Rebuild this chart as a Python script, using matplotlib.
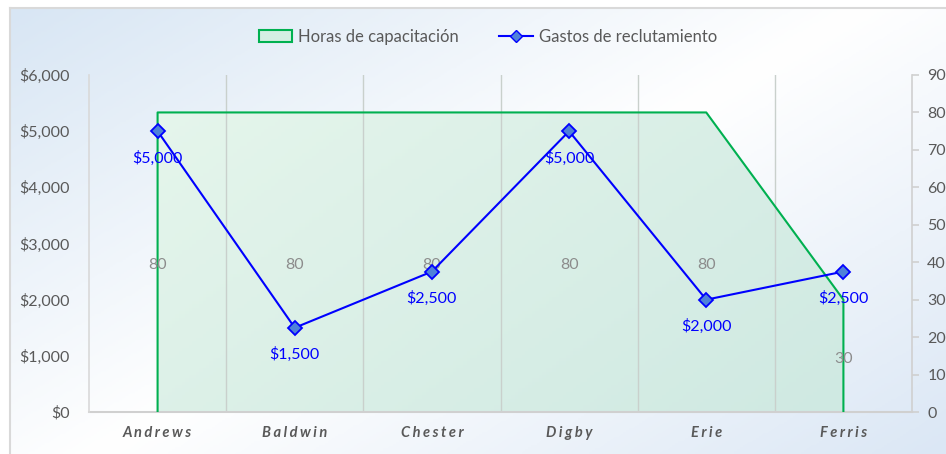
import matplotlib
matplotlib.use("Agg")
import matplotlib.pyplot as plt
import numpy as np
from matplotlib.colors import LinearSegmentedColormap
from matplotlib.lines import Line2D
from matplotlib.patches import Patch, Polygon

categories = ["Andrews", "Baldwin", "Chester", "Digby", "Erie", "Ferris"]
training_hours = [80, 80, 80, 80, 80, 30]
recruit_cost = [5000, 1500, 2500, 5000, 2000, 2500]
cost_ticks = [0, 1000, 2000, 3000, 4000, 5000, 6000]
hour_ticks = [0, 10, 20, 30, 40, 50, 60, 70, 80, 90]

GREEN = "#00b050"
BLUE = "#0000ff"
GRAY = "#595959"

plt.rcParams["font.family"] = ["Lato", "DejaVu Sans"]

W, H = 946, 454
fig = plt.figure(figsize=(W / 100, H / 100), dpi=100)
fig.patch.set_facecolor("white")

# chart area background: diagonal blue -> white -> blue gradient with a gray frame
bg = fig.add_axes([10 / W, 0, (W - 10) / W, (H - 8) / H])
bg_cmap = LinearSegmentedColormap.from_list("bg", ["#d8e6f4", "#ffffff", "#dbe7f5"])
gx, gy = np.meshgrid(np.linspace(0, 1, 300), np.linspace(0, 1, 200))
bg.imshow(gx * 0.55 + gy * 0.45, cmap=bg_cmap, aspect="auto", extent=[0, 1, 0, 1], origin="upper")
bg.set_xlim(0, 1)
bg.set_ylim(0, 1)
bg.set_xticks([])
bg.set_yticks([])
for side in ["right", "bottom"]:
    bg.spines[side].set_visible(False)
for side in ["left", "top"]:
    bg.spines[side].set_color("#d9d9d9")
    bg.spines[side].set_linewidth(1.5)

rect = [89 / W, (H - 412) / H, (912 - 89) / W, (412 - 75) / H]
ax2 = fig.add_axes(rect)  # hours (right axis), drawn underneath
ax = fig.add_axes(rect)  # dollars (left axis), drawn on top
ax.patch.set_visible(False)
ax2.patch.set_visible(False)

x = np.arange(len(categories))
xlim = (-0.5, len(categories) - 0.5)

# area series with a soft green gradient clipped to its outline
poly_xy = [(x[0], 0)] + list(zip(x, training_hours)) + [(x[-1], 0)]
fill_cmap = LinearSegmentedColormap.from_list("fill", ["#e6f6ec", "#cfe9e2"])
fx, fy = np.meshgrid(np.linspace(0, 1, 200), np.linspace(0, 1, 100))
img = ax2.imshow(fx * 0.6 + (1 - fy) * 0.4, cmap=fill_cmap, aspect="auto",
                 extent=[x[0], x[-1], 0, 90], origin="lower", zorder=1)
clip = Polygon(poly_xy, closed=True, transform=ax2.transData, facecolor="none", edgecolor="none")
ax2.add_patch(clip)
img.set_clip_path(clip)
ax2.plot([p[0] for p in poly_xy], [p[1] for p in poly_xy], color=GREEN, lw=1.5, zorder=3)

for g in np.arange(0.5, len(categories) - 0.5, 1):
    ax2.axvline(g, color="#c9d0cc", lw=1.0, zorder=2)

for xi, v in zip(x, training_hours):
    ax2.annotate(f"{v}", (xi, v / 2), xytext=(0, -3), textcoords="offset pixels",
                 ha="center", va="center", color="#8c8c8c", fontsize=11.5, zorder=4)

ax2.set_ylim(0, 90)
ax2.set_xlim(*xlim)
ax2.yaxis.tick_right()
ax2.set_yticks(hour_ticks)
ax2.set_xticks([])
ax2.tick_params(axis="y", colors="#d0d0d0", labelcolor=GRAY, length=5, width=1.2, pad=6, labelsize=11.5)
for side in ["left", "top"]:
    ax2.spines[side].set_visible(False)
ax2.spines["right"].set_color("#d0d0d0")
ax2.spines["right"].set_linewidth(1.2)
ax2.spines["bottom"].set_color("#d0d0d0")
ax2.spines["bottom"].set_linewidth(1.5)

# line series
ax.plot(x, recruit_cost, color=BLUE, lw=1.5, marker="D", markersize=7,
        markerfacecolor="#4f81d9", markeredgecolor=BLUE, markeredgewidth=1.3, zorder=5)
for xi, v in zip(x, recruit_cost):
    ax.annotate(f"${v:,}", (xi, v), xytext=(0, -27), textcoords="offset pixels",
                ha="center", va="center", color=BLUE, fontsize=11.5, zorder=6)

ax.set_xlim(*xlim)
ax.set_ylim(0, 6000)
ax.set_yticks(cost_ticks)
ax.set_yticklabels([f"${t:,}" for t in cost_ticks])
ax.tick_params(axis="y", length=0, pad=14, labelcolor=GRAY, labelsize=11.5)
ax.set_xticks(x)
ax.set_xticklabels(["\u2009\u200a".join(c) for c in categories], fontweight="bold", style="italic",
                   color=GRAY, fontsize=10.5)
ax.tick_params(axis="x", length=0, pad=10)
for side in ["top", "right", "bottom"]:
    ax.spines[side].set_visible(False)
ax.spines["left"].set_color("#d9d9d9")
ax.spines["left"].set_linewidth(1.2)

handles = [
    Patch(facecolor="#d5efe3", edgecolor=GREEN, linewidth=1.5, label="Horas de capacitación"),
    Line2D([0], [0], color=BLUE, lw=1.5, marker="D", markersize=6,
           markerfacecolor="#4f81d9", markeredgecolor=BLUE, label="Gastos de reclutamiento"),
]
fig.legend(handles=handles, loc="center", bbox_to_anchor=(488 / W, 1 - 37 / H), ncol=2,
           frameon=False, fontsize=12, labelcolor=GRAY, handlelength=2.0,
           handletextpad=0.4, columnspacing=2.4)

fig.savefig("out.png", dpi=100)
